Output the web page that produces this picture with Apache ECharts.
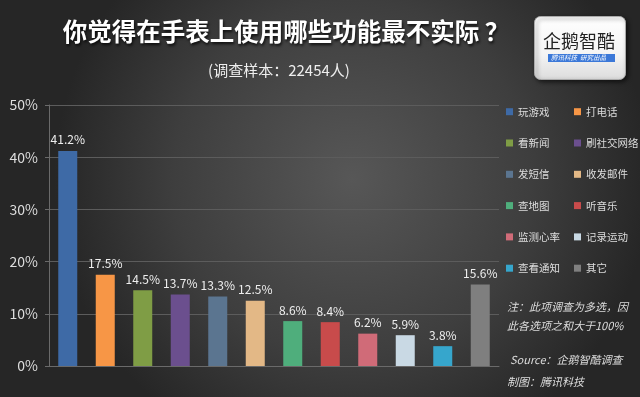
<!DOCTYPE html>
<html>
<head>
<meta charset="utf-8">
<script src="https://cdn.jsdelivr.net/npm/echarts@6/dist/echarts.min.js"></script>
<style>
  html, body { margin: 0; padding: 0; }
  #chart { width: 640px; height: 397px; }
</style>
</head>
<body>
<div id="chart"></div>
<script>
  var categories = ['玩游戏', '打电话', '看新闻', '刷社交网络', '发短信', '收发邮件', '查地图', '听音乐', '监测心率', '记录运动', '查看通知', '其它']
  var values = [41.2, 17.5, 14.5, 13.7, 13.3, 12.5, 8.6, 8.4, 6.2, 5.9, 3.8, 15.6]
  var barColors = ['#3e6aa6', '#f79646', '#7f9d45', '#6b4f8e', '#5b7590', '#e3b886', '#4fae7c', '#c84b4b', '#d06b78', '#c9d9e4', '#36a6cc', '#7f7f7f']
  var yTicks = [0, 10, 20, 30, 40, 50]

  var font = '"Noto Sans CJK SC", "Noto Sans", sans-serif'

  var chart = echarts.init(document.getElementById('chart'))

  // one series per category, stacked so they share one slot each
  var series = []
  for (var i = 0; i < categories.length; i++) {
    var d = []
    for (var j = 0; j < categories.length; j++) {
      d.push(j === i ? values[i] : '-')
    }
    series.push({
      name: categories[i],
      type: 'bar',
      stack: 'all',
      barWidth: 19,
      data: d,
      itemStyle: { color: barColors[i] },
      label: {
        show: true,
        position: 'top',
        distance: 5,
        color: '#eeeeee',
        fontSize: 12,
        fontFamily: font,
        formatter: function (p) { return p.value + '%' }
      }
    })
  }

  var leftNames = [], rightNames = []
  for (var k = 0; k < categories.length; k++) {
    if (k % 2 === 0) leftNames.push(categories[k])
    else rightNames.push(categories[k])
  }

  var legendBase = {
    orient: 'vertical',
    icon: 'rect',
    padding: 0,
    itemWidth: 7,
    itemHeight: 7,
    itemGap: 17.3,
    top: 104.7,
    textStyle: { color: '#dddddd', fontSize: 10.5, lineHeight: 14, fontFamily: font },
    selectedMode: false
  }

  var noteStyle = { fill: '#dddddd', fontSize: 11, fontStyle: 'italic', fontFamily: font }

  chart.setOption({
    backgroundColor: {
      type: 'radial', x: 0.55, y: 0.45, r: 0.75,
      colorStops: [
        { offset: 0, color: '#575757' },
        { offset: 0.6, color: '#3e3e3e' },
        { offset: 1, color: '#262626' }
      ]
    },
    animation: false,
    title: [{
      text: '你觉得在手表上使用哪些功能最不实际 ？',
      left: 286,
      textAlign: 'center',
      top: 19,
      padding: 0,
      textStyle: {
        color: '#ffffff', fontSize: 24.5, fontWeight: 'bold', fontFamily: font,
        textShadowColor: 'rgba(0,0,0,0.8)', textShadowBlur: 3, textShadowOffsetX: 1, textShadowOffsetY: 2
      }
    }, {
      text: '(调查样本：22454人)',
      left: 279,
      textAlign: 'center',
      top: 63,
      padding: 0,
      textStyle: { color: '#eeeeee', fontSize: 15, fontWeight: 'normal', fontFamily: font }
    }],
    legend: [
      Object.assign({}, legendBase, { left: 506, data: leftNames }),
      Object.assign({}, legendBase, { left: 574, data: rightNames })
    ],
    grid: { left: 49, right: 141, top: 105, bottom: 31 },
    xAxis: {
      type: 'category',
      data: categories,
      axisLabel: { show: false },
      axisTick: { show: false },
      axisLine: { lineStyle: { color: '#6a6a6a' } }
    },
    yAxis: {
      type: 'value',
      min: yTicks[0],
      max: yTicks[yTicks.length - 1],
      interval: 10,
      axisLabel: { color: '#dddddd', fontSize: 14, margin: 11, fontFamily: font, formatter: '{value}%' },
      axisLine: { show: true, lineStyle: { color: '#6a6a6a' } },
      axisTick: { show: true, length: 4, lineStyle: { color: '#6a6a6a' } },
      splitLine: { lineStyle: { color: '#5c5c5c' } }
    },
    series: series,
    graphic: [
      { type: 'text', left: 507, top: 301, style: Object.assign({ text: '注：此项调查为多选，因' }, noteStyle) },
      { type: 'text', left: 507, top: 320, style: Object.assign({ text: '此各选项之和大于100%' }, noteStyle) },
      { type: 'text', left: 510, top: 354, style: Object.assign({ text: 'Source：企鹅智酷调查' }, noteStyle) },
      { type: 'text', left: 507, top: 376, style: Object.assign({ text: '制图：腾讯科技' }, noteStyle) },
      // logo box
      {
        type: 'rect', left: 534, top: 16,
        shape: { width: 91, height: 63, r: 6 },
        style: {
          fill: { type: 'linear', x: 0, y: 0, x2: 0, y2: 1, colorStops: [
            { offset: 0, color: '#ffffff' }, { offset: 0.6, color: '#f4f4f4' }, { offset: 1, color: '#dcdcdc' }] },
          stroke: '#aaaaaa', lineWidth: 1,
          shadowColor: 'rgba(0,0,0,0.6)', shadowBlur: 4, shadowOffsetX: 2, shadowOffsetY: 2
        }
      },
      { type: 'text', left: 543, top: 32, style: { text: '企鹅智酷', fill: '#222222', fontSize: 18, fontFamily: font } },
      { type: 'rect', left: 548, top: 54, shape: { width: 67, height: 8 }, style: { fill: '#3b78d8' } },
      { type: 'text', left: 551, top: 54, style: { text: '腾讯科技  研究出品', fill: '#ffffff', fontSize: 6.5, fontStyle: 'italic', fontFamily: font } }
    ]
  })
</script>
</body>
</html>
